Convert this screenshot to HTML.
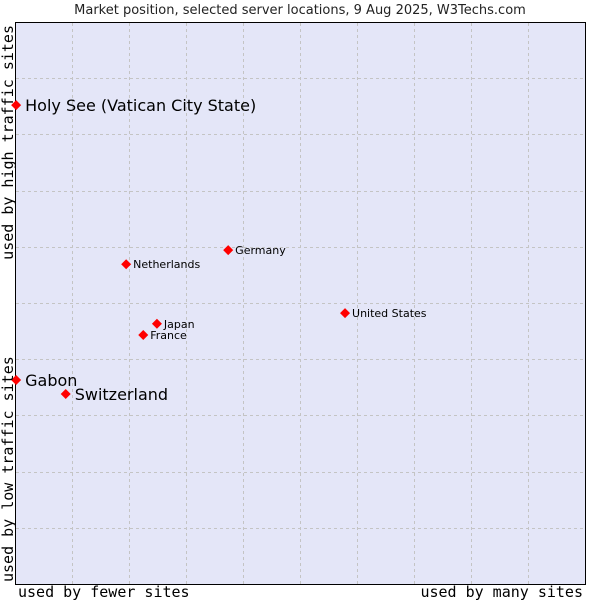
<!DOCTYPE html>
<html><head><meta charset="utf-8"><style>
body{margin:0;background:#fff;width:600px;height:600px;overflow:hidden}
svg{display:block}
</style></head><body>
<svg id="chart" width="600" height="600" xmlns="http://www.w3.org/2000/svg">
<text x="300" y="14" text-anchor="middle" font-family="DejaVu Sans, sans-serif" font-size="13" fill="#222">Market position, selected server locations, 9 Aug 2025, W3Techs.com</text>
<rect x="15.5" y="22.5" width="570" height="562" fill="#e4e6f8" stroke="#000" stroke-width="1"/>
<g id="grid"></g>
<g id="points"></g>
<text x="18" y="597" font-family="DejaVu Sans Mono, monospace" font-size="15" fill="#000">used by fewer sites</text>
<text x="583" y="597" text-anchor="end" font-family="DejaVu Sans Mono, monospace" font-size="15" fill="#000">used by many sites</text>
<text transform="translate(13,25) rotate(-90)" text-anchor="end" font-family="DejaVu Sans Mono, monospace" font-size="15" fill="#000">used by high traffic sites</text>
<text transform="translate(13,582) rotate(-90)" font-family="DejaVu Sans Mono, monospace" font-size="15" fill="#000">used by low traffic sites</text>
</svg>
<script>
const names=["Holy See (Vatican City State)","Gabon","Switzerland","Netherlands","Germany","Japan","France","United States"];
const xVals=[0.2,0.2,8.9,19.5,37.4,24.9,22.5,57.9];
const yVals=[85.2,36.3,33.8,56.9,59.4,46.3,44.3,48.2];
const bigLabel=[true,true,true,false,false,false,false,false];
const NS="http://www.w3.org/2000/svg";
const X0=15,X1=585,Y0=584,Y1=22;
function sx(v){return X0+v/100*(X1-X0);}
function sy(v){return Y0-v/100*(Y0-Y1);}
const grid=document.getElementById('grid');
for(let i=1;i<10;i++){
  let l=document.createElementNS(NS,'line');
  
  
  let x=Math.round(sx(i*10))+0.5;
  l.setAttribute('x1',x);l.setAttribute('x2',x);l.setAttribute('y1',23);l.setAttribute('y2',584);
  l.setAttribute('stroke','#c4c4c4');l.setAttribute('stroke-dasharray','3,3');
  grid.appendChild(l);
  let h=document.createElementNS(NS,'line');
  
  
  let y=Math.round(sy(i*10))+0.5;
  h.setAttribute('y1',y);h.setAttribute('y2',y);h.setAttribute('x1',16);h.setAttribute('x2',585);
  h.setAttribute('stroke','#c4c4c4');h.setAttribute('stroke-dasharray','3,3');
  grid.appendChild(h);
}
const pts=document.getElementById('points');
names.forEach((n,i)=>{
  const x=sx(xVals[i]),y=sy(yVals[i]);
  const p=document.createElementNS(NS,'polygon');
  
  
  p.setAttribute('points',`${x},${y-5} ${x+5},${y} ${x},${y+5} ${x-5},${y}`);
  p.setAttribute('fill','#ff0000');
  pts.appendChild(p);
  const t=document.createElementNS(NS,'text');
  
  
  t.setAttribute('x',x+(bigLabel[i]?9:7));
  t.setAttribute('y',y+(bigLabel[i]?6:4));
  t.setAttribute('font-family','DejaVu Sans, sans-serif');
  t.setAttribute('font-size',bigLabel[i]?'16':'11');
  t.setAttribute('fill','#000');
  t.textContent=n;
  pts.appendChild(t);
});
</script>
</body></html>
